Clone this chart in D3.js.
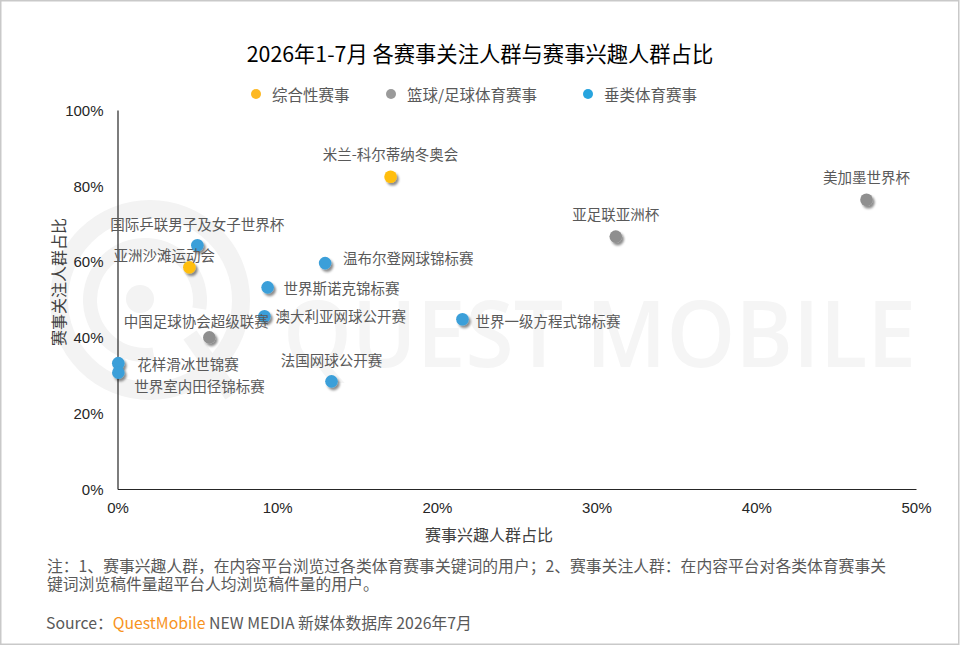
<!DOCTYPE html>
<html>
<head>
<meta charset="utf-8">
<script src="https://cdn.jsdelivr.net/npm/d3@7"></script>
<style>
  html, body { margin: 0; padding: 0; background: #fff; }
  svg { display: block; }
</style>
</head>
<body>
<svg id="chart" width="960" height="646"></svg>
<script>
// ---- data ----
const categories = ["综合性赛事", "篮球/足球体育赛事", "垂类体育赛事"];
const names = [
  "米兰-科尔蒂纳冬奥会", "亚洲沙滩运动会",
  "美加墨世界杯", "亚足联亚洲杯", "中国足球协会超级联赛",
  "国际乒联男子及女子世界杯", "温布尔登网球锦标赛", "世界斯诺克锦标赛",
  "澳大利亚网球公开赛", "世界一级方程式锦标赛", "花样滑冰世锦赛",
  "世界室内田径锦标赛", "法国网球公开赛"
];
const groups = [0, 0, 1, 1, 1, 2, 2, 2, 2, 2, 2, 2, 2];
const interestShare = [17.1, 4.5, 46.9, 31.2, 5.75, 5.0, 13.0, 9.4, 9.2, 21.6, 0.05, 0.05, 13.4];   // x, %
const followShare   = [82.4, 58.5, 76.3, 66.6, 40.0, 64.3, 59.6, 53.2, 45.6, 44.8, 33.2, 30.7, 28.4]; // y, %
const xTicks = [0, 10, 20, 30, 40, 50];
const yTicks = [0, 20, 40, 60, 80, 100];

// ---- styling / layout (not data) ----
const colors = ["#FFBE0B", "#8F8F8F", "#3A9FD9"];
const legendColors = ["#FDB822", "#9A9A9A", "#27A4DE"];
// label placement per point: [dx, dy, anchor]
const labelPos = [
  [0, -23, "middle"], [-25, -13, "middle"],
  [0, -23, "middle"], [0, -23, "middle"], [-13, -17, "middle"],
  [0, -22, "middle"], [18, -6, "start"], [16, 0, "start"],
  [11, -1, "start"], [13, 1, "start"], [19, 0, "start"],
  [16, 13, "start"], [0, -22, "middle"]
];

const CJK = '"Noto Sans CJK SC", "Microsoft YaHei", sans-serif';
const LAT = '"Liberation Sans", Arial, sans-serif';

const svg = d3.select("#chart");

// frame
svg.append("rect").attr("x", 0.75).attr("y", 0.75).attr("width", 958).attr("height", 643.5)
  .attr("fill", "#fff").attr("stroke", "#c9c9c9").attr("stroke-width", 1.5);

// watermark
const wm = svg.append("g").attr("fill", "none").attr("stroke", "#f3f3f3");
wm.append("circle").attr("cx", 150).attr("cy", 300).attr("r", 91).attr("stroke-width", 18);
wm.append("path").attr("d", d3.arc()({innerRadius: 48, outerRadius: 62, startAngle: -Math.PI * 1.05, endAngle: Math.PI * 0.55}))
  .attr("transform", "translate(145,300)").attr("fill", "#f3f3f3").attr("stroke", "none");
wm.append("circle").attr("cx", 140).attr("cy", 299).attr("r", 14).attr("fill", "#f3f3f3").attr("stroke", "none");
wm.append("line").attr("x1", 190).attr("y1", 335).attr("x2", 232).attr("y2", 395).attr("stroke-width", 16);
svg.append("text").attr("x", 283).attr("y", 367)
  .attr("font-family", '"Open Sans", "Noto Sans", sans-serif').attr("font-size", 92)
  .attr("font-weight", 600)
  .attr("textLength", 633).attr("lengthAdjust", "spacingAndGlyphs")
  .attr("fill", "#f5f5f5").text("QUEST MOBILE");

// shadow filter
const defs = svg.append("defs");
const f = defs.append("filter").attr("id", "shadow").attr("x", "-50%").attr("y", "-50%").attr("width", "200%").attr("height", "200%");
f.append("feDropShadow").attr("dx", 2).attr("dy", 2.5).attr("stdDeviation", 1.3)
  .attr("flood-color", "#000").attr("flood-opacity", 0.45);

// title
svg.append("text").attr("x", 480).attr("y", 52).attr("text-anchor", "middle")
  .attr("dominant-baseline", "central")
  .attr("font-family", CJK).attr("font-size", 21.3).attr("font-weight", 400).attr("fill", "#000")
  .text("2026年1-7月 各赛事关注人群与赛事兴趣人群占比");

// legend
const legendX = [256, 391, 588];
categories.forEach((c, i) => {
  svg.append("circle").attr("cx", legendX[i]).attr("cy", 94).attr("r", 5).attr("fill", legendColors[i]);
  svg.append("text").attr("x", legendX[i] + 16).attr("y", 94).attr("dominant-baseline", "central")
    .attr("font-family", CJK).attr("font-size", 15.5).attr("fill", "#595959").text(c);
});

// scales
const x = d3.scaleLinear().domain([0, 50]).range([117.5, 916]);
const y = d3.scaleLinear().domain([0, 100]).range([489, 110]);

// axes
const xAxis = svg.append("g").attr("transform", `translate(0,${y(0)})`)
  .call(d3.axisBottom(x).tickValues(xTicks).tickSize(0).tickPadding(13).tickFormat(d => d + "%"));
const yAxis = svg.append("g").attr("transform", `translate(${x(0)},0)`)
  .call(d3.axisLeft(y).tickValues(yTicks).tickSize(0).tickPadding(14).tickFormat(d => d + "%"));
[xAxis, yAxis].forEach(a => {
  a.select(".domain").attr("stroke", "#262626").attr("stroke-width", 1.2);
  a.selectAll("text").attr("font-family", LAT).attr("font-size", 15).attr("fill", "#262626");
});
yAxis.selectAll("text").attr("dy", "0.35em");

// axis titles
svg.append("text").attr("x", 489).attr("y", 534).attr("text-anchor", "middle").attr("dominant-baseline", "central")
  .attr("font-family", CJK).attr("font-size", 16).attr("fill", "#404040").text("赛事兴趣人群占比");
svg.append("text").attr("transform", "translate(58,282) rotate(-90)").attr("text-anchor", "middle")
  .attr("dominant-baseline", "central")
  .attr("font-family", CJK).attr("font-size", 16).attr("fill", "#404040").text("赛事关注人群占比");

// points
const pts = names.map((n, i) => ({name: n, g: groups[i], xv: interestShare[i], yv: followShare[i], lp: labelPos[i]}));
svg.append("g").selectAll("circle").data(pts).join("circle")
  .attr("cx", d => x(d.xv)).attr("cy", d => y(d.yv)).attr("r", 6.3)
  .attr("fill", d => colors[d.g]).attr("filter", "url(#shadow)");

// labels
svg.append("g").selectAll("text").data(pts).join("text")
  .attr("x", d => x(d.xv) + d.lp[0]).attr("y", d => y(d.yv) + d.lp[1])
  .attr("text-anchor", d => d.lp[2]).attr("dominant-baseline", "central")
  .attr("font-family", CJK).attr("font-size", 14.5).attr("fill", "#595959")
  .text(d => d.name);

// footnote
const note = [
  "注：1、赛事兴趣人群，在内容平台浏览过各类体育赛事关键词的用户；2、赛事关注人群：在内容平台对各类体育赛事关",
  "键词浏览稿件量超平台人均浏览稿件量的用户。"
];
note.forEach((t, i) => {
  svg.append("text").attr("x", 47).attr("y", 565 + i * 18).attr("dominant-baseline", "central")
    .attr("font-family", CJK).attr("font-size", 15.8).attr("fill", "#595959").text(t);
});
const src = svg.append("text").attr("x", 46).attr("y", 622).attr("dominant-baseline", "central")
  .attr("font-family", CJK).attr("font-size", 15.8).attr("fill", "#595959");
src.append("tspan").text("Source：");
src.append("tspan").attr("fill", "#F7931E").text("QuestMobile");
src.append("tspan").text(" NEW MEDIA 新媒体数据库 2026年7月");
</script>
</body>
</html>
